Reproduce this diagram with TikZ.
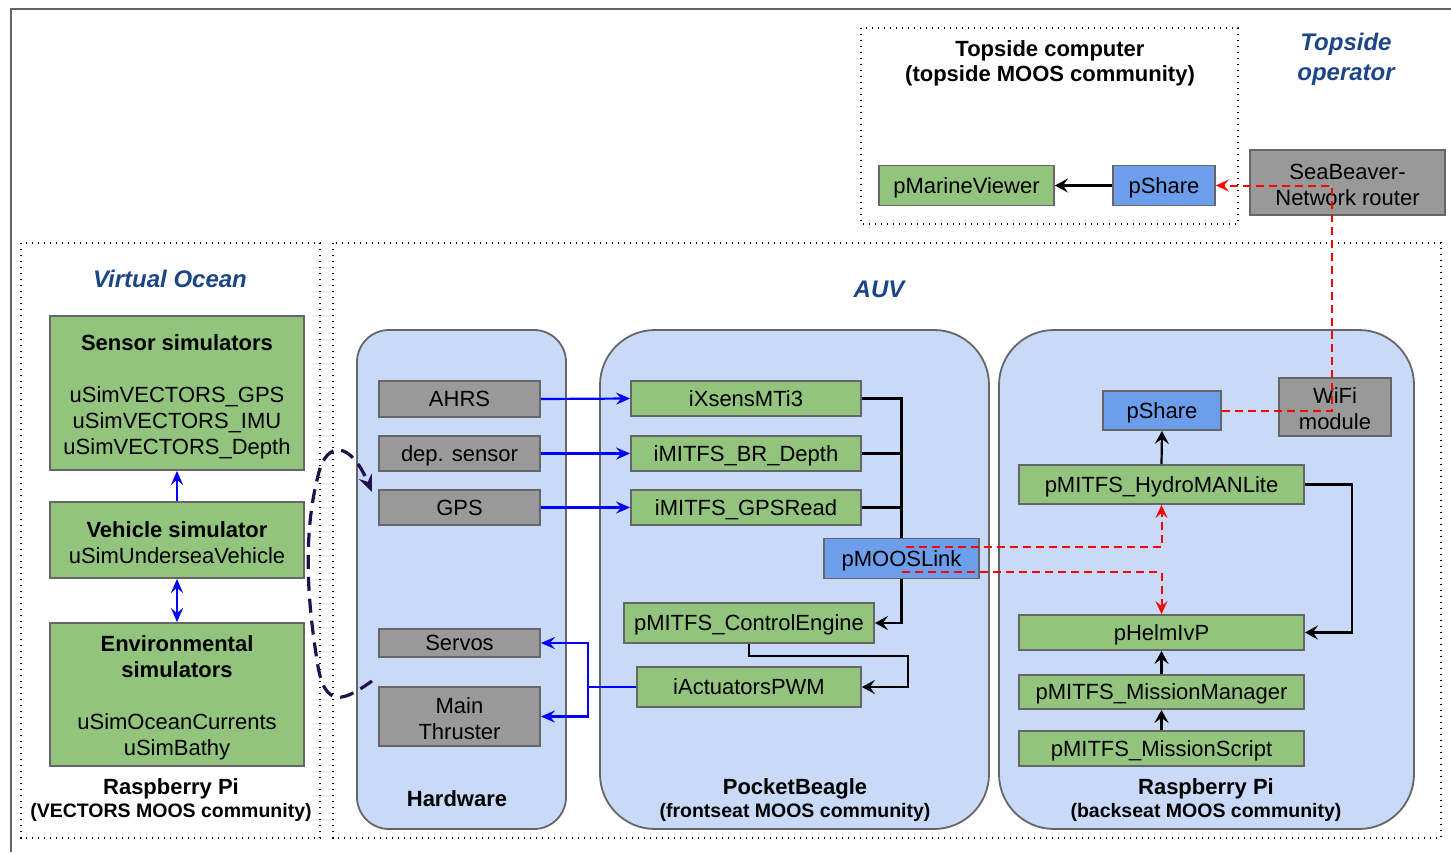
\documentclass[tikz,border=0pt]{standalone}
\usepackage{fontspec}
\setmainfont{Liberation Sans}
\usetikzlibrary{arrows.meta}

\definecolor{boxgreen}{HTML}{93C47D}
\definecolor{boxblue}{HTML}{6D9EEB}
\definecolor{boxgray}{HTML}{999999}
\definecolor{panel}{HTML}{C9DAF8}
\definecolor{edge}{HTML}{666666}
\definecolor{titleblue}{HTML}{1C4587}
\definecolor{navy}{HTML}{20124D}
\definecolor{linkblue}{HTML}{0000FF}
\definecolor{linkred}{HTML}{FF0000}

\newcommand{\bodyfont}{\fontsize{22}{26}\selectfont}
\newcommand{\headfont}{\fontsize{22}{25}\selectfont\bfseries}
\newcommand{\subfont}{\fontsize{19.5}{24}\selectfont\bfseries}
\newcommand{\areafont}{\fontsize{24}{30}\selectfont\bfseries\itshape}
% extra top room so multi-line labels sit centred on their cap height
\newcommand{\topstrut}[1]{\rule{0pt}{#1}}

\begin{document}
\begin{tikzpicture}[x=1pt,y=-1pt,
  box/.style={draw=edge,line width=1.8pt,inner sep=0pt,align=center,font=\bodyfont,text=black},
  oneline/.style={text height=15.8pt,text depth=0pt},
  gbox/.style={box,fill=boxgreen},
  bbox/.style={box,fill=boxblue},
  hbox/.style={box,fill=boxgray},
  panelbox/.style={draw=edge,line width=1.8pt,fill=panel},
  dotframe/.style={draw=black,line width=1.4pt,dash pattern=on 1.4pt off 4.6pt},
  areatitle/.style={font=\areafont,text=titleblue,inner sep=0pt,anchor=base},
  paneltitle/.style={font=\headfont,inner sep=0pt,anchor=base},
  panelsub/.style={font=\subfont,inner sep=0pt,anchor=base},
  blkline/.style={draw=black,line width=2.2pt},
  blk/.style={blkline,-{Stealth[length=13pt,width=14pt,inset=5pt]}},
  blutip/.style={},
  blu/.style={draw=linkblue,line width=2.2pt,-{Stealth[length=14pt,width=12pt,inset=5pt]}},
  bluline/.style={draw=linkblue,line width=2.2pt},
  reddash/.style={draw=linkred,line width=2pt,dash pattern=on 8pt off 5pt,
                  -{Stealth[length=13pt,width=12pt,inset=5pt]}},
  wire/.style={draw=navy,line width=3.2pt,dash pattern=on 14pt off 8pt,
               -{Stealth[length=17pt,width=14pt,inset=6pt]}}
]
\useasboundingbox (0,0) rectangle (1451,852);

% outer frame (top and left edges)
\draw[edge,line width=2pt] (11,852) -- (11,9) -- (1451,9);

% dotted grouping frames
\draw[dotframe] (21,243) rectangle (320,838);
\draw[dotframe] (333,243) rectangle (1441,838);
\draw[dotframe] (861,28) rectangle (1238,224);

% rounded computer panels
\draw[panelbox,rounded corners=32] (357,330) rectangle (566,829);
\draw[panelbox,rounded corners=55] (600,330) rectangle (989,829);
\draw[panelbox,rounded corners=55] (999,330) rectangle (1414,829);

% area titles
\node[areatitle] (vocean) at (170,287.6) {Virtual Ocean};
\node[areatitle] (auv) at (879,297.6) {AUV};
\node[areatitle] (opA) at (1346,50.6) {Topside};
\node[areatitle] (opB) at (1346,80.6) {operator};

% panel captions
\node[paneltitle] (topA) at (1050,56) {Topside computer};
\node[paneltitle] (topB) at (1050,81) {(topside MOOS community)};
\node[paneltitle] (vecA) at (171,794) {Raspberry Pi};
\node[panelsub] (vecB) at (171,817) {(VECTORS MOOS community)};
\node[paneltitle] (hwA) at (457,806) {Hardware};
\node[paneltitle] (pbA) at (795,794) {PocketBeagle};
\node[panelsub] (pbB) at (795,817) {(frontseat MOOS community)};
\node[paneltitle] (rpA) at (1206,794) {Raspberry Pi};
\node[panelsub] (rpB) at (1206,817) {(backseat MOOS community)};

% virtual ocean simulators
\node[gbox,minimum width=254,minimum height=154] (sens) at (177,393)
  {\topstrut{24pt}{\bfseries Sensor simulators}\\[26pt]uSimVECTORS\_GPS\\uSimVECTORS\_IMU\\uSimVECTORS\_Depth};
\node[gbox,minimum width=254,minimum height=76] (veh) at (177,540)
  {\topstrut{22pt}{\bfseries Vehicle simulator}\\uSimUnderseaVehicle};
\node[gbox,minimum width=254,minimum height=143] (env) at (177,694.5)
  {\topstrut{22pt}{\bfseries Environmental}\\{\bfseries simulators}\\[26pt]uSimOceanCurrents\\uSimBathy};

% hardware
\node[hbox,oneline,minimum width=161,minimum height=36] (ahrs) at (459.5,399) {AHRS};
\node[hbox,oneline,minimum width=161,minimum height=35] (dep) at (459.5,453.5) {dep. sensor};
\node[hbox,oneline,minimum width=161,minimum height=35] (gps) at (459.5,507.5) {GPS};
\node[hbox,oneline,minimum width=161,minimum height=28] (servo) at (459.5,643) {Servos};
\node[hbox,minimum width=161,minimum height=59] (thr) at (459.5,716.5) {\topstrut{20pt}Main\\Thruster};

% frontseat community
\node[gbox,oneline,minimum width=230,minimum height=35] (ixs) at (746,398.5) {iXsensMTi3};
\node[gbox,oneline,minimum width=230,minimum height=35] (brd) at (746,453.5) {iMITFS\_BR\_Depth};
\node[gbox,oneline,minimum width=230,minimum height=35] (gpsr) at (746,507.5) {iMITFS\_GPSRead};
\node[bbox,oneline,minimum width=155,minimum height=40] (link) at (901.5,558.5) {pMOOSLink};
\node[gbox,oneline,minimum width=250,minimum height=40] (ce) at (749,623) {pMITFS\_ControlEngine};
\node[gbox,oneline,minimum width=224,minimum height=40] (act) at (749,687) {iActuatorsPWM};

% backseat community
\node[bbox,oneline,minimum width=118,minimum height=39] (ps2) at (1162,410.5) {pShare};
\node[hbox,minimum width=112,minimum height=58] (wifi) at (1335,407) {\topstrut{19pt}WiFi\\module};
\node[gbox,oneline,minimum width=285,minimum height=39] (hyd) at (1161.5,484.5) {pMITFS\_HydroMANLite};
\node[gbox,oneline,minimum width=285,minimum height=35] (helm) at (1161.5,632.5) {pHelmIvP};
\node[gbox,oneline,minimum width=285,minimum height=34] (mm) at (1161.5,692) {pMITFS\_MissionManager};
\node[gbox,oneline,minimum width=285,minimum height=35] (ms) at (1161.5,748.5) {pMITFS\_MissionScript};

% topside
\node[gbox,oneline,minimum width=175,minimum height=40] (pmv) at (966.5,185.5) {pMarineViewer};
\node[bbox,oneline,minimum width=102,minimum height=40] (ps1) at (1164,185.5) {pShare};
\node[hbox,minimum width=195,minimum height=65] (router) at (1347.5,182.5) {\topstrut{20pt}SeaBeaver-\\Network router};

% simulator links
\draw[blu] (veh.north) -- (sens.south);
\draw[blu,{Stealth[length=14pt,width=12pt,inset=5pt]}-{Stealth[length=14pt,width=12pt,inset=5pt]}] (veh.south) -- (env.north);

% sensors into drivers
\draw[blu] (ahrs.east) -- (ixs.west);
\draw[blu] (dep.east) -- (brd.west);
\draw[blu] (gps.east) -- (gpsr.west);

% actuator outputs
\coordinate (split) at (588,687);
\draw[bluline] (act.west) -- (split);
\draw[blu] (split) |- (servo.east);
\draw[blu] (split) |- (thr.east);

% frontseat data flow
\draw[blkline] (ixs.east) -| (link.north);
\draw[blkline] (brd.east) -- (brd.east -| link.north);
\draw[blkline] (gpsr.east) -- (gpsr.east -| link.north);
\draw[blk] (link.south) |- (ce.east);
\draw[blk] (ce.south) |- (908,656) |- (act.east);

% backseat data flow
\draw[blk] (hyd.north) -- (ps2.south);
\draw[blk] (hyd.east) -- (1352,484.5) |- (helm.east);
\draw[blk] (mm.north) -- (helm.south);
\draw[blk] (ms.north) -- (mm.south);
\draw[blk] (ps1.west) -- (pmv.east);

% wireless links
\draw[reddash] (ps2.east) -- (1332,410.5) |- (ps1.east);
\coordinate (linkA) at (906,547);
\coordinate (linkB) at (902,572);
\draw[reddash] (linkA) -| (hyd.south);
\draw[reddash] (linkB) -| (helm.north);

% hardware-in-the-loop connection
\draw[wire] (372,681) .. controls (345,700) and (324,712) .. (317,660)
            .. controls (304,580) and (306,520) .. (319,472)
            .. controls (327,442) and (350,440) .. (372,492);
\end{tikzpicture}
\end{document}
